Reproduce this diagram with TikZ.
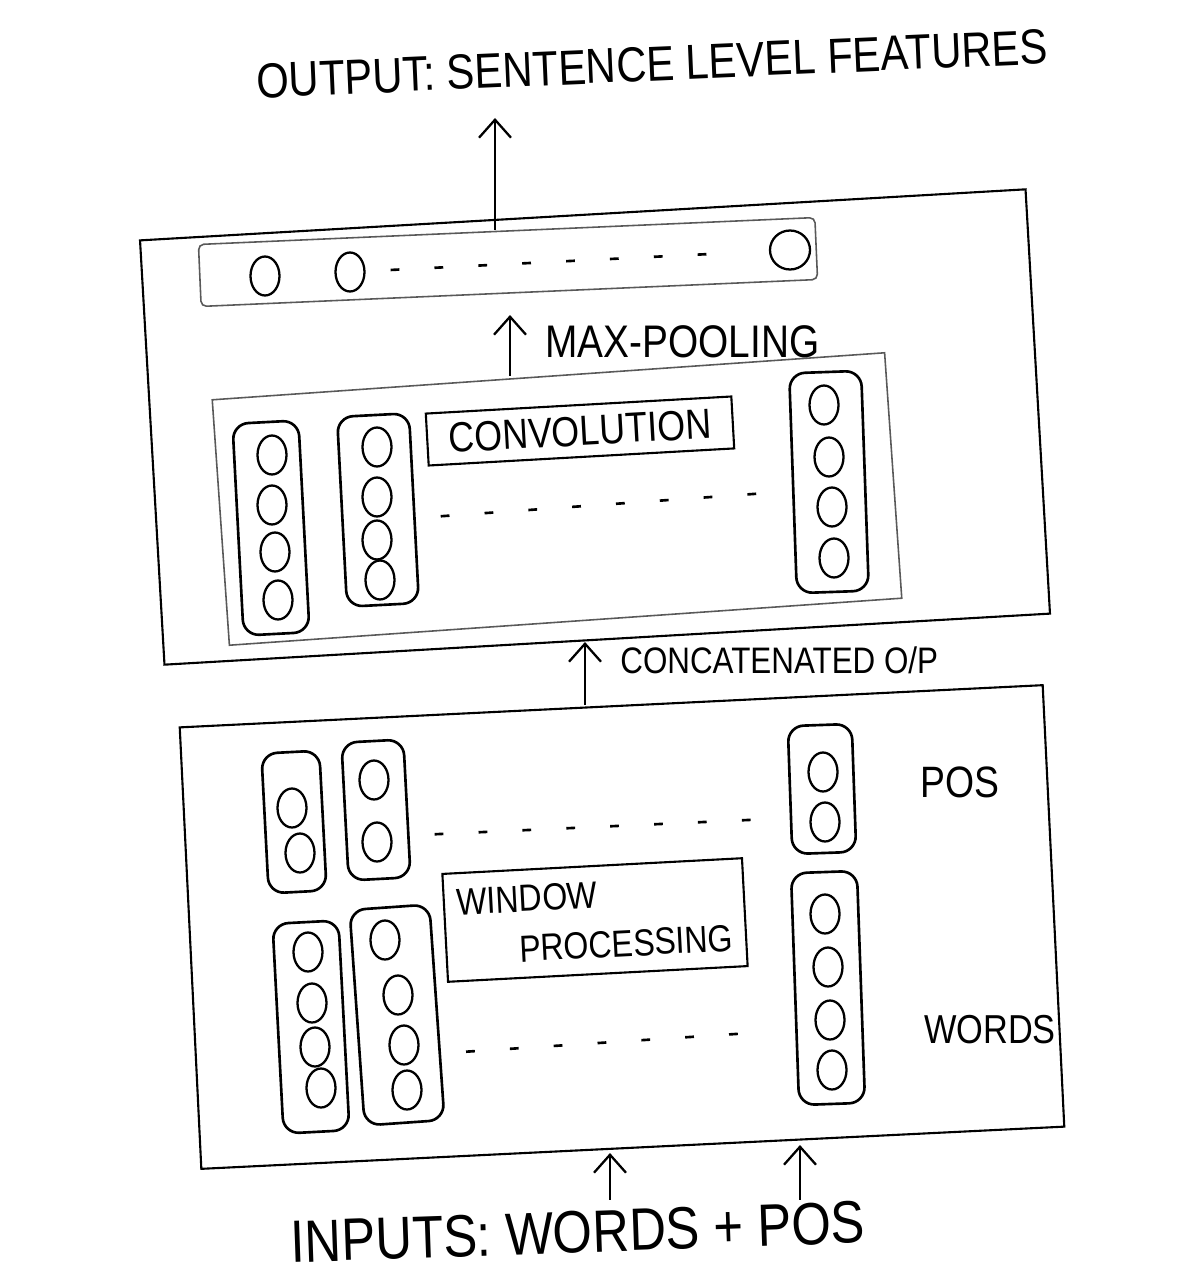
\documentclass[tikz,border=0pt]{standalone}
\usepackage{fontspec}
\newfontfamily\handfont[FakeStretch=0.85]{Liberation Sans}
\usetikzlibrary{arrows.meta, positioning, shapes.geometric}

\begin{document}
\begin{tikzpicture}[
    x=0.02cm, y=-0.02cm,
    hand/.style={
      font={\handfont\fontsize{#1}{#1}\selectfont},
      inner sep=0pt
    },
    wh/.style 2 args={
      minimum width=#1*0.02cm,
      minimum height=#2*0.02cm
    },
    panel/.style={
      draw,
      line width=1.2pt,
      inner sep=0pt
    },
    faint/.style={
      draw=black!65,
      line width=0.9pt,
      inner sep=0pt
    },
    vec/.style={
      draw,
      line width=1.5pt,
      rounded corners=9pt,
      inner sep=0pt
    },
    neuron/.style={
      ellipse,
      draw,
      line width=1.3pt,
      minimum width=0.58cm,
      minimum height=0.78cm,
      inner sep=0pt
    },
    opbox/.style={
      draw,
      line width=1.2pt,
      inner sep=0pt
    },
    arrow/.style={
      -{Straight Barb[length=3.6mm, width=6.4mm]},
      line width=1.3pt
    },
    trail/.style={
      line width=1.5pt,
      dash pattern=on 5pt off 20pt,
      shorten <=5mm,
      shorten >=6mm
    }
  ]

    \useasboundingbox (0,0) rectangle (1184,1284);

    % Output at the top
    \node[hand=28, rotate=2.5] (title) at (652,64) {OUTPUT: SENTENCE LEVEL FEATURES};
    \coordinate (outtip) at (495,118);

    % Upper block: pooled vector
    \node[panel, wh={887}{425}, rotate=3.3] (upper) at (595,427) {};
    \node[faint, rounded corners=3pt, wh={617}{62}, rotate=2.5] (pooled) at (508,262) {};
    \node[neuron] (pa) at (265,276) {};
    \node[neuron] (pb) at (350,272) {};
    \node[neuron, minimum width=0.8cm] (pc) at (790,250) {};
    \draw[trail] (pb) -- (pc);
    \draw[arrow] (pooled.north -| outtip) -- (outtip);

    % Convolution layer
    \node[faint, wh={674}{246}, rotate=4] (conv) at (557,499) {};
    \node[vec, wh={66}{212}, rotate=3] (ca) at (271,528) {};
    \foreach \x/\y [count=\i] in {272/455, 272/505, 275/552, 278/600}
      \node[neuron] (ca\i) at (\x,\y) {};
    \node[vec, wh={72}{190}, rotate=3] (cb) at (378,510) {};
    \foreach \x/\y [count=\i] in {377/447, 377/497, 377/540, 380/580}
      \node[neuron] (cb\i) at (\x,\y) {};
    \node[vec, wh={72}{220}, rotate=2] (cc) at (829,482) {};
    \foreach \x/\y [count=\i] in {824/405, 829/457, 832/507, 834/558}
      \node[neuron] (cc\i) at (\x,\y) {};
    \node[opbox, wh={306}{52}, rotate=3.2, hand=24] (convlabel) at (580,431) {CONVOLUTION};
    \draw[trail] (cb.-15) -- (cc.192);

    \coordinate (pooltip) at (510,315);
    \draw[arrow] (conv.north -| pooltip) -- (pooltip);
    \node[hand=26, anchor=west] (pooltext) at (545,342) {MAX-POOLING};

    % Lower block: window over words and tags
    \node[panel, wh={864}{442}, rotate=2.8] (lower) at (622,927) {};
    \coordinate (concattip) at (585,642);
    \draw[arrow] (lower.north -| concattip) -- (concattip);
    \node[hand=21, anchor=west] (concattext) at (620,660) {CONCATENATED O/P};

    \node[vec, wh={58}{140}, rotate=3] (ta) at (294,822) {};
    \foreach \x/\y [count=\i] in {292/808, 300/853}
      \node[neuron] (ta\i) at (\x,\y) {};
    \node[vec, wh={62}{138}, rotate=3] (tb) at (376,810) {};
    \foreach \x/\y [count=\i] in {374/780, 377/842}
      \node[neuron] (tb\i) at (\x,\y) {};
    \node[vec, wh={64}{128}, rotate=2] (tc) at (822,789) {};
    \foreach \x/\y [count=\i] in {823/772, 825/822}
      \node[neuron] (tc\i) at (\x,\y) {};
    \draw[trail] (tb.-40) -- (tc.220);
    \node[hand=25] (poslabel) at (960,782) {POS};

    \node[opbox, wh={300}{108}, rotate=3, hand=21.5, align=left] (window) at (595,920)
      {WINDOW\\[7pt]\hspace*{1.2cm}PROCESSING};

    \node[vec, wh={66}{210}, rotate=3] (wa) at (311,1027) {};
    \foreach \x/\y [count=\i] in {308/952, 312/1003, 315/1047, 321/1088}
      \node[neuron] (wa\i) at (\x,\y) {};
    \node[vec, wh={80}{216}, rotate=4] (wb) at (397,1015) {};
    \foreach \x/\y [count=\i] in {385/940, 398/995, 404/1045, 407/1090}
      \node[neuron] (wb\i) at (\x,\y) {};
    \node[vec, wh={66}{232}, rotate=2] (wc) at (828,988) {};
    \foreach \x/\y [count=\i] in {825/914, 828/967, 830/1020, 832/1070}
      \node[neuron] (wc\i) at (\x,\y) {};
    \draw[trail] (wb.-45) -- (wc.230);
    \node[hand=23] (wordslabel) at (990,1030) {WORDS};

    % Inputs
    \node[hand=34, rotate=2] (inputs) at (578,1232) {INPUTS: WORDS + POS};
    \coordinate (intipw) at (610,1153);
    \coordinate (intipp) at (800,1145);
    \draw[arrow, shorten <=6pt] (inputs.north -| intipw) -- (intipw);
    \draw[arrow, shorten <=6pt] (inputs.north -| intipp) -- (intipp);

  \end{tikzpicture}
\end{document}
